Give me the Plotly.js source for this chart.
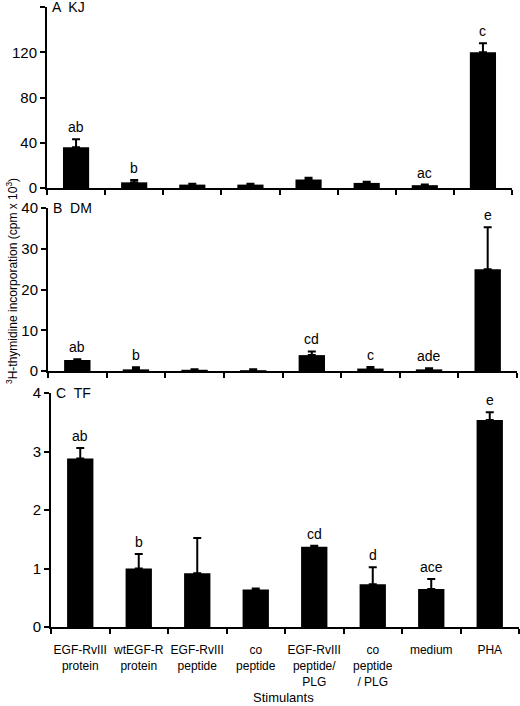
<!DOCTYPE html>
<html>
<head>
<meta charset="utf-8">
<script src="https://cdn.plot.ly/plotly-3.0.1.min.js"></script>
<style>
  html, body { margin: 0; padding: 0; background: #fff; }
  #chart { width: 520px; height: 706px; }
</style>
</head>
<body>
<div id="chart"></div>
<script>
// stimulants on the x axis (shared by the three donors)
var stimulants = [
	"EGF-RvIII<br>protein", "wtEGF-R<br>protein", "EGF-RvIII<br>peptide", "co<br>peptide",
	"EGF-RvIII<br>peptide/<br>PLG", "co<br>peptide<br>/ PLG", "medium", "PHA"
];

// panel A, donor KJ
var kjMean = [36, 5, 3, 3, 7.5, 4.5, 2.5, 120];
var kjErr  = [7, 2, 0.7, 0.7, 1.5, 1, 0.5, 8];
var kjSig  = ["ab", "b", "", "", "", "", "ac", "c"];

// panel B, donor DM
var dmMean = [2.7, 0.4, 0.3, 0.2, 3.9, 0.6, 0.4, 25];
var dmErr  = [0.2, 0.5, 0.1, 0.2, 0.9, 0.4, 0.3, 10.3];
var dmSig  = ["ab", "b", "", "", "cd", "c", "ade", "e"];

// panel C, donor TF
var tfMean = [2.88, 1.0, 0.92, 0.64, 1.37, 0.73, 0.65, 3.54];
var tfErr  = [0.18, 0.25, 0.6, 0.02, 0.02, 0.29, 0.17, 0.13];
var tfSig  = ["ab", "b", "", "", "cd", "d", "ace", "e"];

var W = 520, H = 706;
var FONT = "Liberation Sans, Arial, sans-serif";

// pixel boxes of each panel: [x0, x1, yTop, yBottom]
var panels = [
	{ name: "A  KJ", mean: kjMean, err: kjErr, sig: kjSig, box: [47, 512, 7, 188],   range: [0, 160], dtick: 40 },
	{ name: "B  DM", mean: dmMean, err: dmErr, sig: dmSig, box: [48, 517, 208, 371], range: [0, 40],  dtick: 10 },
	{ name: "C  TF", mean: tfMean, err: tfErr, sig: tfSig, box: [51, 519, 393, 627], range: [0, 4],   dtick: 1 }
];

var data = [];
var annotations = [];
var layout = {
	width: W, height: H,
	margin: { l: 0, r: 0, t: 0, b: 0 },
	paper_bgcolor: "#fff",
	plot_bgcolor: "#fff",
	showlegend: false,
	bargap: 0.55,
	font: { family: FONT, color: "#000", size: 14 }
};

for (var p = 0; p < panels.length; p++) {
	var pn = panels[p];
	var n = p + 1;
	var xa = n === 1 ? "x" : "x" + n;
	var ya = n === 1 ? "y" : "y" + n;
	var zeros = pn.mean.map(function () { return 0; });

	data.push({
		type: "bar",
		x: stimulants,
		y: pn.mean,
		xaxis: xa, yaxis: ya,
		marker: { color: "#000", line: { width: 0 } },
		error_y: {
			type: "data", symmetric: false,
			array: pn.err, arrayminus: zeros,
			color: "#000", thickness: 2, width: 4
		},
		hoverinfo: "skip"
	});

	layout["xaxis" + (n === 1 ? "" : n)] = {
		type: "category",
		domain: [pn.box[0] / W, pn.box[1] / W],
		anchor: ya,
		range: [-0.5, 7.5],
		showline: true, linewidth: 2, linecolor: "#000",
		ticks: "outside", ticklen: 5, tickwidth: 2, tickcolor: "#000",
		tickson: "boundaries",
		tickangle: 0,
		ticklabelstandoff: 11,
		showgrid: false, zeroline: false,
		showticklabels: n === 3,
		tickfont: { size: 12 },
		automargin: false,
		fixedrange: true
	};

	layout["yaxis" + (n === 1 ? "" : n)] = {
		domain: [1 - pn.box[3] / H, 1 - pn.box[2] / H],
		anchor: xa,
		range: pn.range,
		dtick: pn.dtick,
		showline: true, linewidth: 2, linecolor: "#000",
		ticks: "outside", ticklen: 5, tickwidth: 2, tickcolor: "#000",
		showgrid: false, zeroline: false,
		tickfont: { size: 15 },
		automargin: false,
		fixedrange: true
	};

	// panel label at the top of the y axis
	annotations.push({
		xref: "paper", yref: "paper",
		x: (pn.box[0] + 3) / W, y: 1 - pn.box[2] / H,
		xanchor: "left", yanchor: "middle",
		text: pn.name, showarrow: false,
		font: { size: 14 }
	});

	// significance letters above the error bars
	for (var i = 0; i < stimulants.length; i++) {
		if (!pn.sig[i]) continue;
		annotations.push({
			xref: xa, yref: ya,
			x: stimulants[i], y: pn.mean[i] + pn.err[i],
			xanchor: "center", yanchor: "bottom", yshift: 2,
			text: pn.sig[i], showarrow: false,
			font: { size: 14 }
		});
	}
}

// x title under the bottom panel
annotations.push({
	xref: "paper", yref: "paper",
	x: 283 / W, y: 1 - 697 / H,
	xanchor: "center", yanchor: "middle",
	text: "Stimulants", showarrow: false,
	font: { size: 13 }
});

// shared y title
annotations.push({
	xref: "paper", yref: "paper",
	x: 12 / W, y: 1 - 281 / H,
	xanchor: "center", yanchor: "middle",
	textangle: -90,
	text: "<sup>3</sup>H-thymidine incorporation (cpm x 10<sup>3</sup>)",
	showarrow: false,
	font: { size: 12 }
});

layout.annotations = annotations;

Plotly.newPlot("chart", data, layout, { staticPlot: true, displayModeBar: false });
</script>
</body>
</html>
